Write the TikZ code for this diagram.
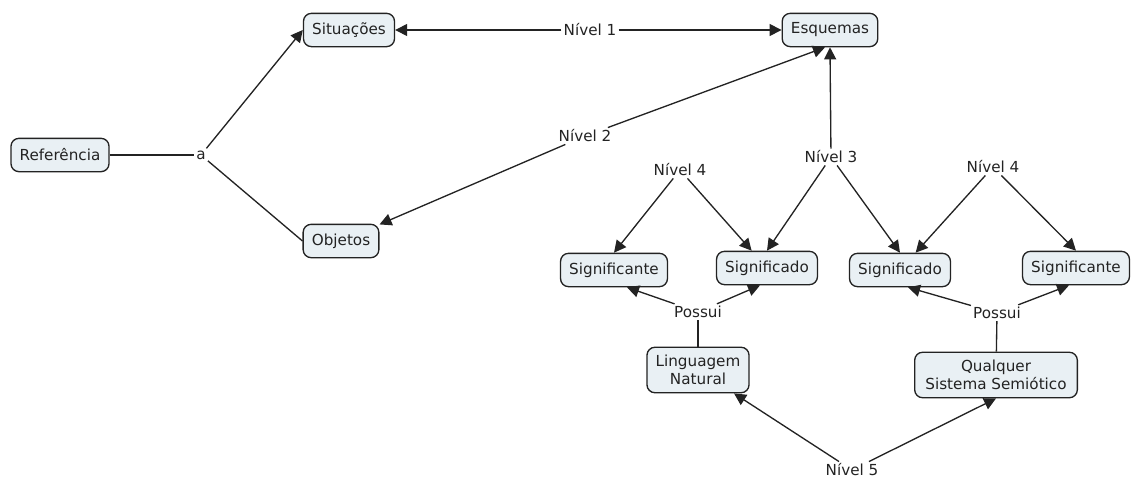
\documentclass[tikz,border=0pt]{standalone}
\usepackage{fontspec}
\setmainfont{DejaVu Sans}
\usepackage{xcolor}
\usepackage{tikz}
\usetikzlibrary{calc, arrows.meta}
\definecolor{boxfill}{RGB}{233,240,244}
\definecolor{ink}{RGB}{35,35,35}

\begin{document}
\begin{tikzpicture}[x=0.75pt, y=-0.75pt,
    box/.style={draw=ink, fill=boxfill, rounded corners=6pt, line width=1pt,
                align=center, font=\fontsize{11.4}{13.3}\selectfont, text=ink,
                inner xsep=6.5pt, inner ysep=6pt, minimum height=25pt},
    lbl/.style={font=\fontsize{11.4}{13.3}\selectfont, text=ink, inner sep=1.5pt},
    arw/.style={-{Triangle[length=9pt,width=9pt]}, line width=1pt, draw=ink},
    ln/.style={line width=1pt, draw=ink},
]
\useasboundingbox (0,0) rectangle (1132,489);

\node[box] (sit) at (349,30) {Situações};
\node[box] (esq) at (830,30) {Esquemas};
\node[box] (ref) at (60,155) {Referência};
\node[box] (obj) at (341,241) {Objetos};
\node[box] (sgt1) at (614,270) {Significante};
\node[box] (sgd1) at (767,268) {Significado};
\node[box] (sgd2) at (900,270) {Significado};
\node[box] (sgt2) at (1076,268) {Significante};
\node[box] (ling) at (698,370) {Linguagem\\Natural};
\node[box, minimum width=122pt] (sist) at (996,375) {Qualquer\\Sistema Semiótico};

\node[lbl] (a) at (201,155) {a};
\node[lbl] (n1) at (590,30) {Nível 1};
\node[lbl] (n2) at (585,136) {Nível 2};
\node[lbl] (n3) at (831,157) {Nível 3};
\node[lbl] (n4a) at (680,170) {Nível 4};
\node[lbl] (n4b) at (993,167) {Nível 4};
\node[lbl] (pos1) at (698,312) {Possui};
\node[lbl] (pos2) at (997,313) {Possui};
\node[lbl] (n5) at (852,470) {Nível 5};

% plain links
\foreach \a/\b in {ref/a, a/obj.west, pos1/ling, pos2/sist}
    \draw[ln] (\a) -- (\b);

% arrows
\foreach \a/\b in {n1/sit, n1/esq, a/sit.west, n2/obj, n3/esq.south,
                   n3/sgd1.north, n3/sgd2.north, n4a/sgt1.north, n4a/sgd1,
                   n4b/sgd2, n4b/sgt2.north, n5/ling, n5/sist.south}
    \draw[arw] (\a) -- (\b);

\draw[arw] (n2) -- ($(esq.south)+(-5,0)$);
\draw[arw] (pos1) -- ($(sgt1.south)+(13,0)$);
\draw[arw] (pos1) -- ($(sgd1.south)+(-7,0)$);
\draw[arw] (pos2) -- ($(sgd2.south)+(8,0)$);
\draw[arw] (pos2) -- ($(sgt2.south)+(-7,0)$);
\end{tikzpicture}
\end{document}
